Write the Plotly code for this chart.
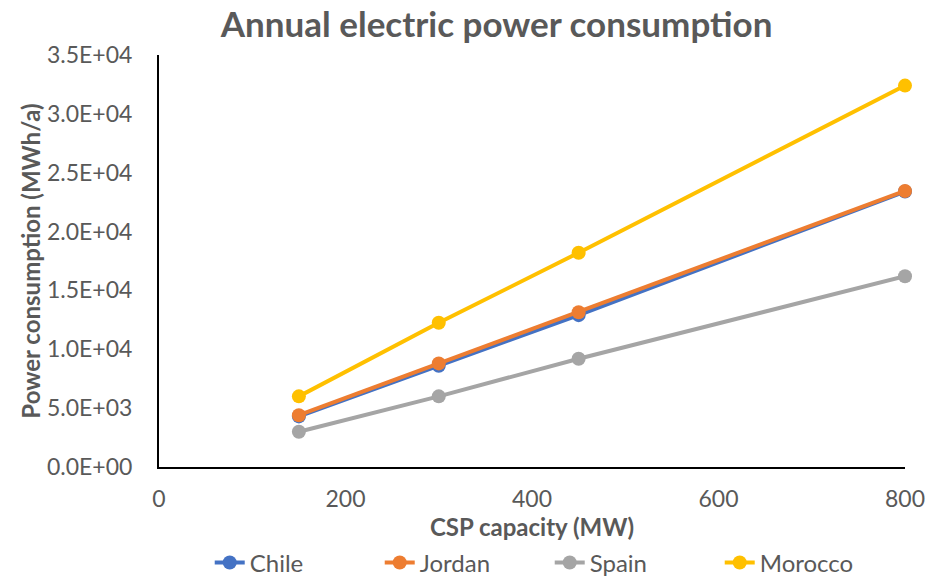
import plotly.graph_objects as go

capacity = [150, 300, 450, 800]
chile = [4300, 8600, 12900, 23400]
jordan = [4400, 8800, 13150, 23450]
spain = [3000, 6000, 9200, 16200]
morocco = [6000, 12250, 18200, 32400]

y_tickvals = [0, 5000, 10000, 15000, 20000, 25000, 30000, 35000]
y_ticktext = ["0.0E+00", "5.0E+03", "1.0E+04", "1.5E+04", "2.0E+04", "2.5E+04", "3.0E+04", "3.5E+04"]
x_tickvals = [0, 200, 400, 600, 800]

series = [
    ("Chile", chile, "#4472C4"),
    ("Jordan", jordan, "#ED7D31"),
    ("Spain", spain, "#A5A5A5"),
    ("Morocco", morocco, "#FFC000"),
]

fig = go.Figure()
for name, vals, color in series:
    fig.add_trace(go.Scatter(
        x=capacity, y=vals, name=name, mode="lines+markers",
        line=dict(color=color, width=4),
        marker=dict(color=color, size=14),
        cliponaxis=False,
    ))

font_family = "Lato, 'Open Sans', sans-serif"
grey = "#595959"
fig.update_layout(
    width=930, height=579,
    paper_bgcolor="white", plot_bgcolor="white",
    margin=dict(l=159, r=25, t=55, b=112, autoexpand=False),
    title=dict(text="<b>Annual electric power consumption</b>", x=0.534, xanchor="center",
               y=0.958, yanchor="middle",
               font=dict(family=font_family, size=35, color=grey)),
    font=dict(family=font_family, color=grey),
    showlegend=True,
    legend=dict(orientation="h", x=0.068, xanchor="left", y=-0.178, yanchor="top",
                font=dict(size=24, color=grey), entrywidth=125, entrywidthmode="pixels",
                traceorder="normal"),
    xaxis=dict(range=[0, 800], tickvals=x_tickvals, showgrid=False, zeroline=False,
               showline=True, linecolor="black", linewidth=2, automargin=False,
               tickfont=dict(size=23, color=grey), ticks="", ticklabelstandoff=10,
               title=dict(text="<b>CSP capacity (MW)</b>", font=dict(size=24, color=grey), standoff=8)),
    yaxis=dict(range=[0, 35000], tickvals=y_tickvals, ticktext=y_ticktext, showgrid=False,
               zeroline=False, showline=True, linecolor="black", linewidth=2, automargin=False,
               tickfont=dict(size=23, color=grey), ticks="", ticklabelstandoff=20,
               title=dict(text="<b>Power consumption (MWh/a)</b>", font=dict(size=24, color=grey), standoff=0)),
)

fig.write_html("out.html", config={"displayModeBar": False},
               post_script="document.body.style.margin='0';document.body.style.overflow='hidden';")
